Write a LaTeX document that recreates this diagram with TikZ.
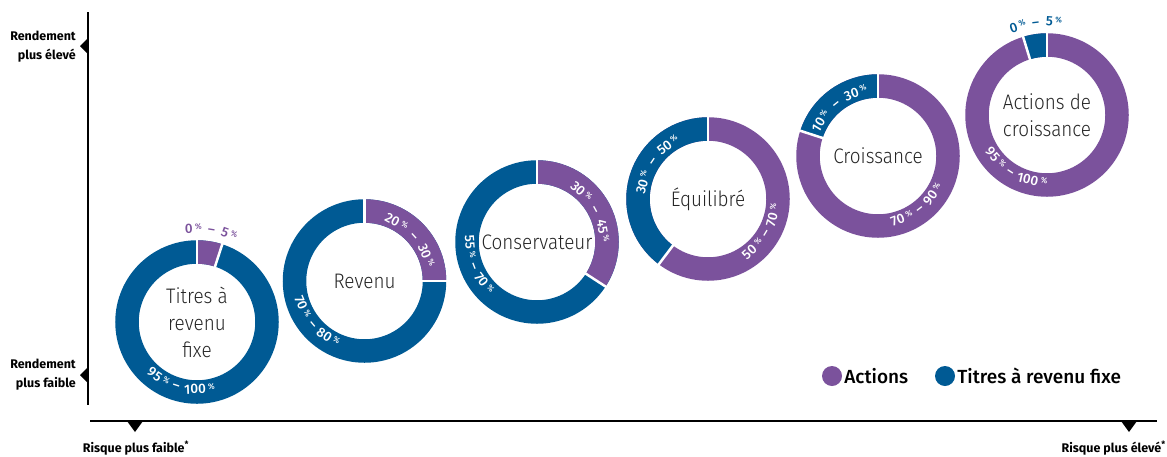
\documentclass[tikz,border=0pt]{standalone}
\usepackage{fontspec}
\setmainfont{Fira Sans}
\newfontfamily\lightfont{Fira Sans Light}[FakeStretch=0.9]
\newfontfamily\medfont{Fira Sans Medium}
\usetikzlibrary{positioning}
\definecolor{actpurple}{HTML}{7B529C}
\definecolor{fixblue}{HTML}{005A94}
\newcommand\pnum{\medfont\fontsize{13.5}{13.5}\selectfont}
\newcommand\ppct{\medfont\fontsize{8}{8}\selectfont}
\newcommand\pctpiece[1]{#1\,\raisebox{3.8pt}{\ppct\%}}

% part of a ring: centre, from, to, colour
\newcommand\ringpart[4]{%
  \draw[ring,#4] ([shift={(#2:70)}]#1) arc[start angle=#2,end angle=#3,radius=70];
  \draw[gap] ([shift={(#2:55)}]#1) -- ([shift={(#2:86)}]#1);
  \draw[gap] ([shift={(#3:55)}]#1) -- ([shift={(#3:86)}]#1);
}
% curved label: centre, mid angle, baseline radius, colour, low, high,
% direction (1 = clockwise, tops out; -1 = counter-clockwise, tops in)
\newcommand\arclabel[7]{%
  \pgfmathsetmacro\wA{7.8*ifthenelse(#5<10,1,ifthenelse(#5<100,2,3))+8}%
  \pgfmathsetmacro\wB{7.8*ifthenelse(#6<10,1,ifthenelse(#6<100,2,3))+8}%
  \pgfmathsetmacro\angA{#2+(#7)*(9.5+0.5*\wA)/#3*180/pi}%
  \pgfmathsetmacro\angB{#2-(#7)*(9.5+0.5*\wB)/#3*180/pi}%
  \node[pctlbl,text=#4,rotate={\angA-(#7)*90}] (#1-#5-lo) at ([shift={(\angA:#3)}]#1) {\pctpiece{#5}};
  \node[pctlbl,text=#4,rotate={#2-(#7)*90}] (#1-#5-dash) at ([shift={(#2:#3)}]#1) {–};
  \node[pctlbl,text=#4,rotate={\angB-(#7)*90}] (#1-#5-hi) at ([shift={(\angB:#3)}]#1) {\pctpiece{#6}};
}

\begin{document}
\begin{tikzpicture}[
      x=1pt,y=1pt,
      ring/.style={line width=23.5pt},
      gap/.style={white,line width=2.5pt},
      centerlbl/.style={
         align=center,
         font=\lightfont\fontsize{21}{27}\selectfont,
         text=black!85
      },
      pctlbl/.style={font=\pnum,inner sep=0pt,anchor=base},
      axis/.style={line width=1.4pt},
      axislbl/.style={font=\bfseries\fontsize{12.5}{19}\selectfont,inner sep=0pt},
      legdot/.style={circle,minimum size=20pt,inner sep=0pt},
      legtxt/.style={font=\medfont\fontsize{19}{22}\selectfont,inner sep=1pt}
    ]
    \useasboundingbox (0,0) rectangle (1167,-456);

    % axes
    \coordinate (ytop) at (88,-12);
    \coordinate (ybot) at (88,-405);
    \coordinate (xleft) at (90,-421);
    \coordinate (xright) at (1157,-421);
    \draw[axis] (ytop) -- (ybot);
    \draw[axis] (xleft) -- (xright);
    \fill (88,-38) -- (80,-46) -- (88,-54) -- cycle;
    \fill (88,-367) -- (80,-375) -- (88,-383) -- cycle;
    \fill (127,-421) -- (135,-432) -- (143,-421) -- cycle;
    \fill (1121,-421) -- (1129,-432) -- (1137,-421) -- cycle;
    \node[axislbl,anchor=east,align=right] (rhigh) at (76,-47) {Rendement\\plus élevé};
    \node[axislbl,anchor=east,align=right] (rlow) at (76,-375) {Rendement\\plus faible};
    \node[axislbl] (risklow) at (136,-448) {Risque plus faible\textsuperscript{*}};
    \node[axislbl,anchor=east] (riskhigh) at (1166,-448) {Risque plus élevé\textsuperscript{*}};

    % ring centres
    \coordinate (fix) at (197,-322);
    \coordinate (inc) at (364.5,-281);
    \coordinate (cons) at (537,-242);
    \coordinate (bal) at (708,-199);
    \coordinate (grow) at (878,-156);
    \coordinate (eqgrow) at (1047,-115);

    \draw[ring,fixblue] (fix) circle[radius=70];
    \ringpart{fix}{90}{72}{actpurple}
    \draw[ring,fixblue] (inc) circle[radius=70];
    \ringpart{inc}{90}{0}{actpurple}
    \draw[ring,fixblue] (cons) circle[radius=70];
    \ringpart{cons}{90}{-33}{actpurple}
    \draw[ring,actpurple] (bal) circle[radius=70];
    \ringpart{bal}{90}{233}{fixblue}
    \draw[ring,actpurple] (grow) circle[radius=70];
    \ringpart{grow}{90}{162}{fixblue}
    \draw[ring,actpurple] (eqgrow) circle[radius=70];
    \ringpart{eqgrow}{90}{107}{fixblue}

    \node[centerlbl] (fixlbl) at (fix) {Titres à\\revenu\\fixe};
    \node[centerlbl] (inclbl) at (inc) {Revenu};
    \node[centerlbl] (conslbl) at (cons) {Conservateur};
    \node[centerlbl] (ballbl) at (bal) {Équilibré};
    \node[centerlbl] (growlbl) at (grow) {Croissance};
    \node[centerlbl] (eqgrowlbl) at (eqgrow) {Actions de\\croissance};

    \arclabel{fix}{81}{89}{actpurple}{0}{5}{1}
    \arclabel{fix}{252}{71.5}{white}{95}{100}{-1}
    \arclabel{inc}{42}{62.5}{white}{20}{30}{1}
    \arclabel{inc}{220}{71.5}{white}{70}{80}{-1}
    \arclabel{cons}{29}{62.5}{white}{30}{45}{1}
    \arclabel{cons}{201}{71.5}{white}{55}{70}{-1}
    \arclabel{bal}{146}{62.5}{white}{30}{50}{1}
    \arclabel{bal}{-31}{71.5}{white}{50}{70}{-1}
    \arclabel{grow}{129}{62.5}{white}{10}{30}{1}
    \arclabel{grow}{-52}{71.5}{white}{70}{90}{-1}
    \arclabel{eqgrow}{97}{89}{fixblue}{0}{5}{1}
    \arclabel{eqgrow}{237}{71.5}{white}{95}{100}{-1}

    % legend
    \node[legdot,fill=actpurple] (dotact) at (832,-376) {};
    \node[legtxt,right=1pt of dotact] (txtact) {Actions};
    \node[legdot,fill=fixblue] (dotfix) at (945,-376) {};
    \node[legtxt,right=1pt of dotfix] (txtfix) {Titres à revenu fixe};
\end{tikzpicture}
\end{document}
